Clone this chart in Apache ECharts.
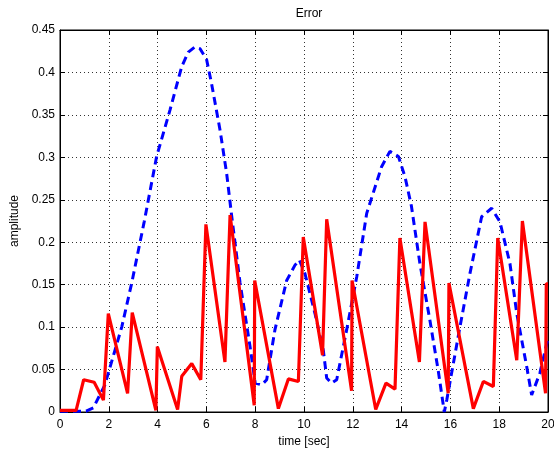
<!DOCTYPE html>
<html>
<head>
<meta charset="utf-8">
<script src="https://cdn.jsdelivr.net/npm/echarts@6/dist/echarts.min.js"></script>
<style>
  html, body { margin: 0; padding: 0; background: #fff; }
  #chart { width: 554px; height: 450px; }
</style>
</head>
<body>
<div id="chart"></div>
<script>
// 误差曲线数据 [time, amplitude]
const redErr = [
  [0, 0.002], [0.66, 0.002], [0.97, 0.038], [1.4, 0.035], [1.78, 0.014],
  [1.98, 0.116], [2.77, 0.022], [2.96, 0.117], [3.93, 0.002], [3.99, 0.077],
  [4.82, 0.003], [4.99, 0.042], [5.4, 0.057], [5.77, 0.038], [5.98, 0.221],
  [6.76, 0.059], [6.97, 0.232], [7.96, 0.008], [7.98, 0.155], [8.95, 0.004],
  [9.36, 0.039], [9.77, 0.036], [9.97, 0.206], [10.76, 0.067], [10.93, 0.227],
  [11.95, 0.025], [11.97, 0.155], [12.94, 0.003], [13.36, 0.034], [13.73, 0.027],
  [13.93, 0.205], [14.73, 0.059], [14.96, 0.224], [15.91, 0.022], [15.94, 0.152],
  [16.94, 0.004], [17.35, 0.036], [17.76, 0.030], [17.94, 0.205], [18.72, 0.061],
  [18.95, 0.225], [19.9, 0.022], [19.93, 0.151], [20, 0.151]
];
const blueErr = [
  [0, 0.001], [1.07, 0.001], [1.37, 0.005], [1.84, 0.032], [2.53, 0.1],
  [2.94, 0.152], [3.45, 0.224], [3.96, 0.301], [4.51, 0.356], [4.99, 0.407],
  [5.26, 0.424], [5.53, 0.430], [5.74, 0.428], [6.01, 0.415], [6.21, 0.387],
  [6.56, 0.332], [6.83, 0.281], [7.04, 0.230], [7.38, 0.152], [7.79, 0.077],
  [8.0, 0.034], [8.27, 0.032], [8.47, 0.038], [8.81, 0.097], [9.29, 0.155],
  [9.63, 0.173], [9.81, 0.179], [10.04, 0.163], [10.45, 0.116], [10.79, 0.073],
  [10.93, 0.04], [11.13, 0.034], [11.34, 0.038], [11.75, 0.097], [12.16, 0.159],
  [12.57, 0.234], [13.18, 0.289], [13.52, 0.307], [13.87, 0.301], [14.14, 0.277],
  [14.4, 0.243], [14.75, 0.175], [15.16, 0.108], [15.5, 0.049], [15.75, 0.0],
  [15.85, 0.014], [16.39, 0.1], [16.8, 0.163], [17.28, 0.23], [17.69, 0.240],
  [18.03, 0.224], [18.44, 0.175], [18.72, 0.116], [19.13, 0.053], [19.33, 0.02],
  [19.67, 0.046], [20, 0.087]
];
const xTicks = { min: 0, max: 20, interval: 2 };
const yTicks = { min: 0, max: 0.45, interval: 0.05 };

const chart = echarts.init(document.getElementById("chart"));

const font = "Liberation Sans, Arial, sans-serif";
const gridLine = { show: true, lineStyle: { color: "#333", type: [1, 3], width: 1 } };
const tick = { show: true, inside: true, length: 5, lineStyle: { color: "#000" } };

chart.setOption({
  animation: false,
  title: {
    text: "Error",
    left: 304,
    top: 3,
    textAlign: "center",
    textStyle: { fontFamily: font, fontSize: 12, fontWeight: "normal", color: "#000" },
  },
  grid: {
    left: 60,
    right: 6,
    top: 30,
    bottom: 38,
    outerBoundsMode: "none",
    containLabel: false,
    show: true,
    borderColor: "#000",
    borderWidth: 1,
    backgroundColor: "#fff",
  },
  xAxis: [
    {
      type: "value",
      ...xTicks,
      name: "time [sec]",
      nameLocation: "middle",
      nameGap: 21,
      nameTextStyle: { fontFamily: font, fontSize: 12, color: "#000" },
      axisLine: { show: true, onZero: false, lineStyle: { color: "#000" } },
      axisTick: tick,
      axisLabel: { fontFamily: font, fontSize: 12, color: "#000", margin: 7 },
      splitLine: gridLine,
    },
    {
      type: "value",
      position: "top",
      ...xTicks,
      axisLine: { show: true, onZero: false, lineStyle: { color: "#000" } },
      axisTick: tick,
      axisLabel: { show: false },
      splitLine: { show: false },
    },
  ],
  yAxis: [
    {
      type: "value",
      ...yTicks,
      name: "amplitude",
      nameLocation: "middle",
      nameGap: 37,
      nameTextStyle: { fontFamily: font, fontSize: 12, color: "#000" },
      axisLine: { show: true, onZero: false, lineStyle: { color: "#000" } },
      axisTick: tick,
      axisLabel: {
        fontFamily: font,
        fontSize: 12,
        color: "#000",
        margin: 5,
        formatter: (v) => String(+v.toFixed(2)),
      },
      splitLine: gridLine,
    },
    {
      type: "value",
      position: "right",
      ...yTicks,
      axisLine: { show: true, onZero: false, lineStyle: { color: "#000" } },
      axisTick: tick,
      axisLabel: { show: false },
      splitLine: { show: false },
    },
  ],
  series: [
    {
      name: "blue",
      type: "line",
      data: blueErr,
      showSymbol: false,
      lineStyle: { color: "#0000ff", width: 3, type: [8, 5] },
      z: 2,
    },
    {
      name: "red",
      type: "line",
      data: redErr,
      showSymbol: false,
      lineStyle: { color: "#ff0000", width: 3.2 },
      z: 3,
    },
  ],
});
</script>
</body>
</html>
